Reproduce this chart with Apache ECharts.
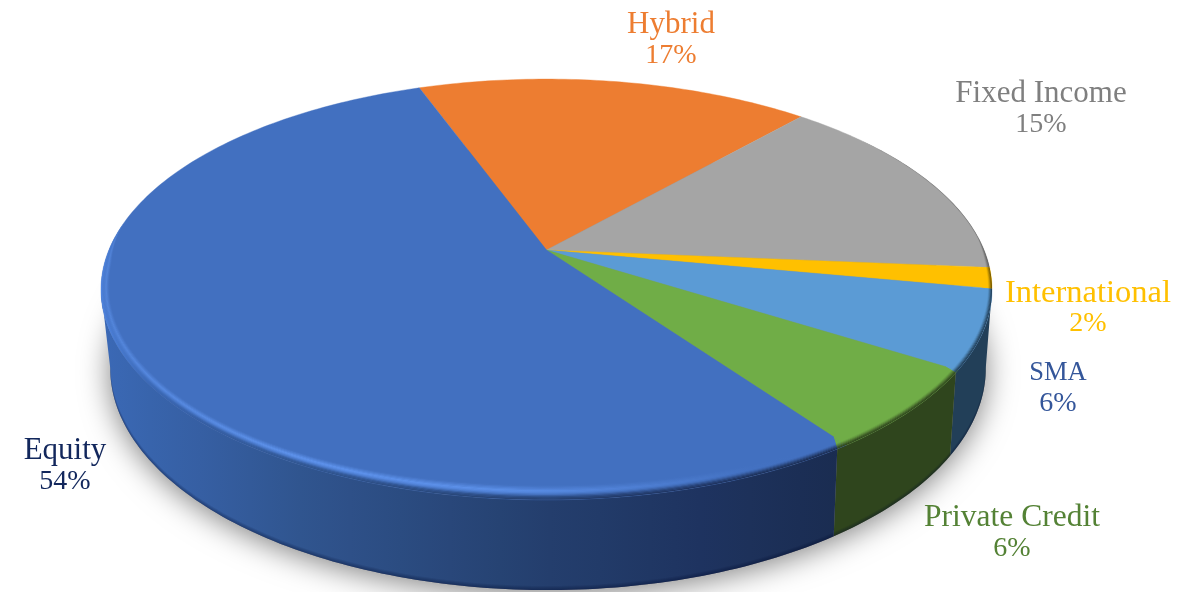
<!DOCTYPE html>
<html><head><meta charset="utf-8">
<style>html,body{margin:0;padding:0;background:#fff}#c{width:1198px;height:592px}</style>
<script src="https://cdn.jsdelivr.net/npm/echarts@6/dist/echarts.min.js"></script>
</head><body><div id="c"></div>
<script>
// ---- data (clockwise from the start angle) ----
const categories = ['Hybrid', 'Fixed Income', 'International', 'SMA', 'Private Credit', 'Equity'];
const shares = [17.1, 14.8, 1.6, 6.0, 6.2, 54.3];

// ---- styling / layout ----
const faceColors = ['#ED7D31', '#A5A5A5', '#FFC000', '#5B9BD5', '#70AD47', '#4270C0'];
const edgeColors = ['#8a4a1c', '#5a5a5a', '#6f5400', '#223F58', '#2F451D', '#1A2C50'];
const labelColors = ['#ED7D31', '#7F7F7F', '#FFC000', '#34569A', '#548235', '#12275C'];
const labelAnchors = [[671, 38], [1041, 107], [1088, 306], [1058, 386], [1012, 531], [65, 464]];
const labelSizes = [31, 31, 32.5, 26.5, 31.5, 31];
const equityWall = [[100, '#3B69B6'], [300, '#30558F'], [530, '#25406F'], [700, '#1E3360'], [840, '#1A2C50']];
const equityRimEdge = [[104, '#5086E2'], [125, '#4274C8'], [170, '#365FA6'], [300, '#30558F'], [530, '#25406F'], [700, '#1E3360'], [840, '#1A2C50']];
const equityGlow = [[100, 0.6], [150, 0.7], [300, 1], [500, 0.9], [620, 0.5], [760, 0]];
const startAngle = -20;
const top3d = { cx: 546.5, ay: 250, A: 437.6, B: 203, k: 0.1876 };
const bot3d = { cx: 548, ay: 326.4, A: 430, B: 214.2, k: 0.1876 };
const RAD = Math.PI / 180;
const bevelDepth = 14, silLeft = 259.2, silRight = 100.8;

function project(m, deg, r) {
  const q = r === undefined ? 1 : r;
  const u = q * Math.sin(deg * RAD), v = q * Math.cos(deg * RAD);
  const w = 1 + m.k * v;
  return [m.cx + m.A * u / w, m.ay - m.B * v / w];
}
function sweep(a0, a1) {
  const out = [], n = Math.max(2, Math.ceil(Math.abs(a1 - a0)));
  for (let i = 0; i <= n; i++) out.push(a0 + (a1 - a0) * i / n);
  return out;
}
const total = shares.reduce((a, b) => a + b, 0);
function sliceRange(i) {
  let s = startAngle;
  for (let j = 0; j < i; j++) s += shares[j] / total * 360;
  return [s, s + shares[i] / total * 360];
}
function rgb(h) { return [1, 3, 5].map(p => parseInt(h.substr(p, 2), 16)); }
function mix(a, b, t) { return a.map((x, i) => x + (b[i] - x) * t); }
function css(c) { return 'rgb(' + c.map(Math.round).join(',') + ')'; }
function lerpTable(tab, x, f) {
  if (x <= tab[0][0]) return f(tab[0][1]);
  for (let i = 1; i < tab.length; i++) if (x <= tab[i][0]) {
    const t = (x - tab[i - 1][0]) / (tab[i][0] - tab[i - 1][0]);
    const a = f(tab[i - 1][1]), b = f(tab[i][1]);
    return Array.isArray(a) ? mix(a, b, t) : a + (b - a) * t;
  }
  return f(tab[tab.length - 1][1]);
}
const id = v => v;
function wallAt(i, x) { return i === 5 ? lerpTable(equityWall, x, rgb) : rgb(edgeColors[i]); }
function rimEdgeAt(i, x) { return i === 5 ? lerpTable(equityRimEdge, x, rgb) : rgb(edgeColors[i]); }
function glowAt(i, x) { return i === 5 ? lerpTable(equityGlow, x, id) : 0; }
function xGrad(fn) {
  const stops = [];
  for (let n = 0; n <= 18; n++) stops.push({ offset: n / 18, color: css(fn(100 + 50 * n)) });
  return new echarts.graphic.LinearGradient(100, 0, 1000, 0, stops, true);
}
function smooth(e0, e1, x) { const t = Math.min(1, Math.max(0, (x - e0) / (e1 - e0))); return t * t * (3 - 2 * t); }
function bevelScale(a) {
  const v = Math.cos(a * RAD), s = Math.sin(a * RAD);
  return Math.max(smooth(0.15, -0.1, v), s > 0 ? smooth(0.72, 1, s) * 0.28 : 0);
}
// The side wall sits at a slightly larger angle than the face, so boundaries bend across the bevel.
function wallShift(a) {
  if (a < 100 || a > 260) return 0;
  return a < 145 ? (a - 100) * 0.03 : 1.35 * (260 - a) / 115;
}
function bevelPoint(a, t) {
  const ang = a + wallShift(a) * (1 - t / bevelDepth);
  const p = project(top3d, ang), o = project(top3d, 0, 0);
  const dist = Math.hypot(p[0] - o[0], p[1] - o[1]);
  const widthBySide = 0.6 + 0.4 * Math.abs(Math.cos(ang * RAD));
  return project(top3d, ang, 1 - t * bevelScale(ang) * widthBySide / dist);
}

function wallItems(i) {
  const [a0, a1] = sliceRange(i);
  const lo = Math.max(a0 + wallShift(a0), silRight), hi = Math.min(a1 + wallShift(a1), silLeft);
  if (hi <= lo) return [];
  const as = sweep(lo, hi);
  const topArc = as.map(a => project(top3d, a));
  const botArc = as.map(a => project(bot3d, a));
  const items = [{ type: 'polygon', shape: { points: topArc.concat(botArc.slice().reverse()) },
    style: { fill: xGrad(x => wallAt(i, x)), stroke: null } }];
  for (let n = 1; n <= 4; n++) {
    const inner = botArc.map(p => [p[0], p[1] - n]);
    items.push({ type: 'polygon', shape: { points: botArc.concat(inner.reverse()) },
      style: { fill: 'rgba(5,15,40,0.09)', stroke: null } });
  }
  return items;
}
function faceItem(i) {
  const [a0, a1] = sliceRange(i);
  const pts = [project(top3d, 0, 0)].concat(sweep(a0, a1).map(a => project(top3d, a)));
  return { type: 'polygon', shape: { points: pts },
    style: { fill: faceColors[i], stroke: faceColors[i], lineWidth: 0.4 } };
}
function bevelItems(i) {
  const [a0, a1] = sliceRange(i), as = sweep(a0, a1).filter(a => bevelScale(a) > 0.001);
  if (as.length < 2) return [];
  const out = [], base = rgb(faceColors[i]), hi = rgb('#5F94EE');
  for (let t = 0; t < bevelDepth; t++) {
    const tf = (t + 0.5) / bevelDepth;
    const outer = as.map(a => bevelPoint(a, t));
    const inner = as.map(a => bevelPoint(a, Math.min(bevelDepth, t + 1.4)));
    const tri = Math.max(0, 1 - Math.abs(tf - 0.52) / 0.32);
    out.push({ type: 'polygon', shape: { points: outer.concat(inner.reverse()) },
      style: { stroke: null, fill: xGrad(x => mix(mix(rimEdgeAt(i, x), base, smooth(0, 0.48, tf)), hi, glowAt(i, x) * tri)) } });
  }
  return out;
}
const sliceData = shares.map((v, i) => [v, i]);
function labelItem(i, v) {
  const [x, y] = labelAnchors[i];
  const line = (text, yy, size) => ({ type: 'text', x, y: yy,
    style: { text, align: 'center', verticalAlign: 'middle', fontFamily: 'Liberation Serif', fontSize: size, fill: labelColors[i] } });
  return { type: 'group', children: [line(categories[i], y - 13, labelSizes[i]), line(Math.round(v) + '%', y + 18, 28)] };
}
const chart = echarts.init(document.getElementById('c'), null, { renderer: 'canvas' });
const layer = (z, fn, data) => ({ type: 'custom', coordinateSystem: 'none', silent: true, z, animation: false,
  data: data || sliceData, renderItem: fn });
chart.setOption({
  animation: false, backgroundColor: '#fff',
  series: [
    layer(1, () => ({ type: 'polygon',
      shape: { points: sweep(0, 360).map(a => project(bot3d, a)) },
      style: { fill: '#888', shadowBlur: 30, shadowColor: 'rgba(0,0,0,0.5)', shadowOffsetY: 4 } }), [[0, 0]]),
    layer(2, (p, api) => ({ type: 'group', children: wallItems(api.value(1)) })),
    layer(3, (p, api) => faceItem(api.value(1))),
    layer(4, (p, api) => ({ type: 'group', children: bevelItems(api.value(1)) })),
    layer(5, (p, api) => labelItem(api.value(1), api.value(0)))
  ]
});
</script></body></html>
